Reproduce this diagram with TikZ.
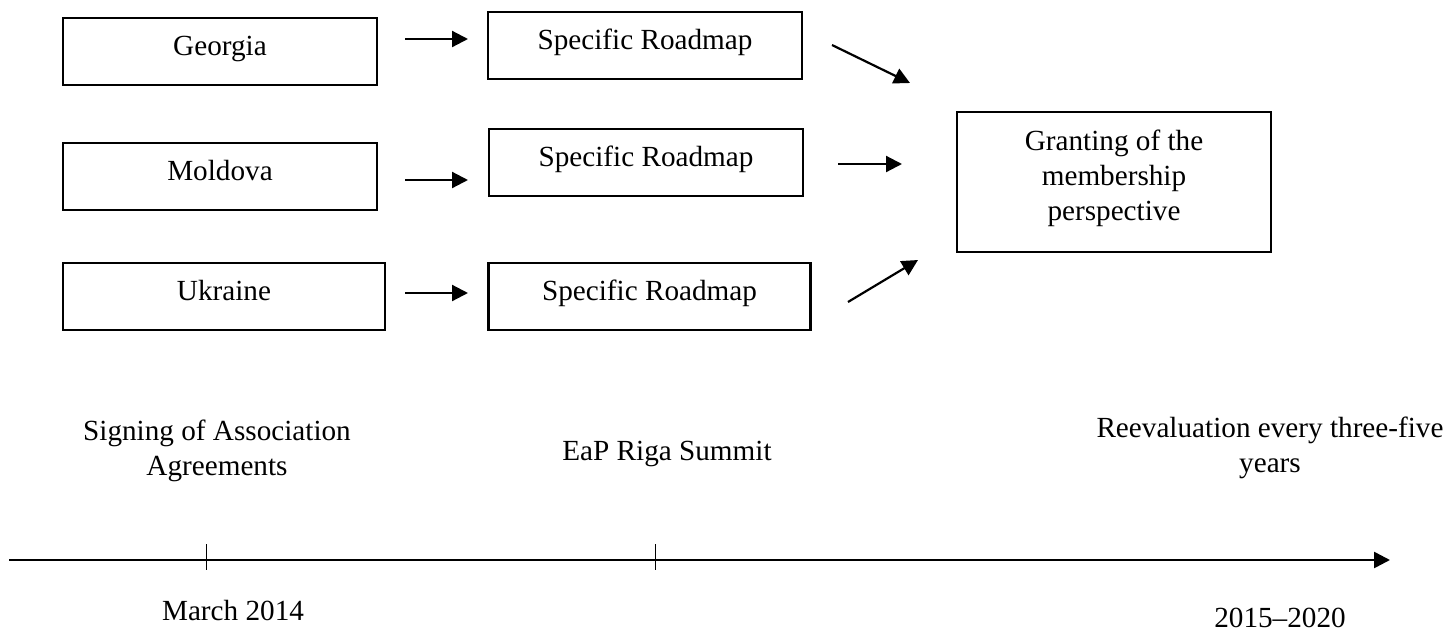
\documentclass[tikz,border=0pt]{standalone}
\usepackage{fontspec}
\setmainfont{Liberation Serif}
\usetikzlibrary{arrows.meta}
\begin{document}
\begin{tikzpicture}[x=0.5pt,y=-0.5pt,
  every node/.style={font=\fontsize{14.6pt}{17.5pt}\selectfont, inner sep=0pt, outer sep=0pt},
  box/.style={draw, line width=1.1pt, text height=18.5pt, text depth=15pt, anchor=base, minimum width=157pt},
  widebox/.style={box, minimum width=161pt},
  arr/.style={line width=1.1pt, -{Triangle[length=8pt,width=8pt]}},
  axis/.style={line width=1.3pt, -{Triangle[length=8pt,width=8pt]}},
  tick/.style={line width=0.5pt},
  lbl/.style={align=center}]
\useasboundingbox (0,0) rectangle (1448,632);

% country boxes
\node[box] (geo) at (220,55) {Georgia};
\node[box] (mol) at (220,180) {Moldova};
\node[widebox] (ukr) at (224,300) {Ukraine};

% roadmap boxes
\node[box] (sr1) at (645,49) {Specific Roadmap};
\node[box] (sr2) at (646,166) {Specific Roadmap};
\node[widebox] (sr3) at (649.5,300) {Specific Roadmap};

% membership box
\node[draw, line width=1.1pt, minimum width=157pt, minimum height=70pt] (grant) at (1114,182) {};
\node[lbl, anchor=north] (granttext) at (1114,130) {Granting of the\\membership\\perspective};

% arrow end points
\coordinate (a1s) at (405,39);  \coordinate (a1e) at (468,39);
\coordinate (a2s) at (405,180); \coordinate (a2e) at (468,180);
\coordinate (a3s) at (405,293); \coordinate (a3e) at (468,293);
\coordinate (b1s) at (832,45);  \coordinate (b1e) at (910,83);
\coordinate (b2s) at (838,164); \coordinate (b2e) at (902,164);
\coordinate (b3s) at (848,302); \coordinate (b3e) at (918,260);

\draw[arr] (a1s) -- (a1e);
\draw[arr] (a2s) -- (a2e);
\draw[arr] (a3s) -- (a3e);
\draw[arr] (b1s) -- (b1e);
\draw[arr] (b2s) -- (b2e);
\draw[arr] (b3s) -- (b3e);

% stage labels
\node[lbl, anchor=north] (sign) at (217,420) {Signing of Association\\Agreements};
\node[anchor=base] (riga) at (667,460) {EaP Riga Summit};
\node[lbl, anchor=north] (reev) at (1270,417) {Reevaluation every three-five\\years};

% timeline
\coordinate (t0) at (9,560);
\coordinate (t1) at (1390,560);
\draw[axis] (t0) -- (t1);
\coordinate (k1a) at (206,544); \coordinate (k1b) at (206,570);
\coordinate (k2a) at (655,544); \coordinate (k2b) at (655,570);
\draw[tick] (k1a) -- (k1b);
\draw[tick] (k2a) -- (k2b);

% dates
\node[anchor=base] (mar) at (233,620) {March 2014};
\node[anchor=base] (yrs) at (1280,627) {2015--2020};
\end{tikzpicture}
\end{document}
